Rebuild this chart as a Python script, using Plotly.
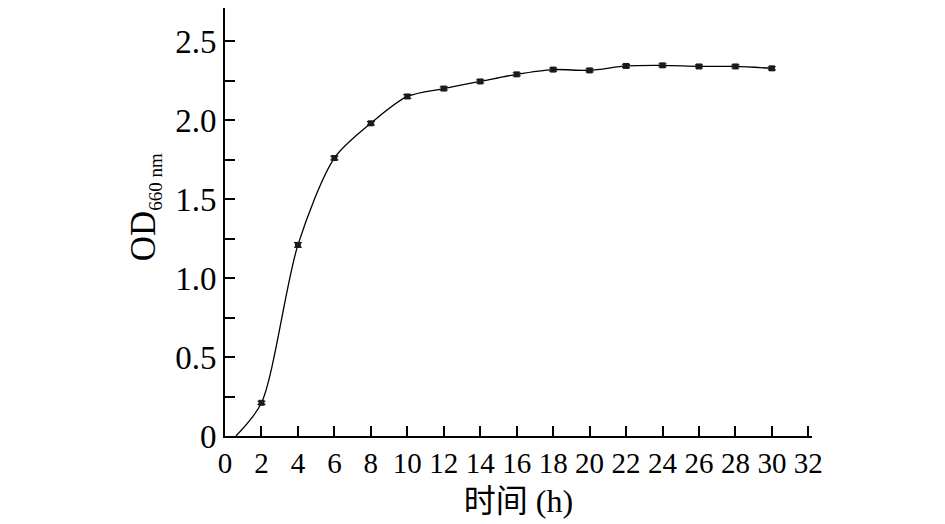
import plotly.graph_objects as go

# Measured points (time in h, OD660)
time_h = [2, 4, 6, 8, 10, 12, 14, 16, 18, 20, 22, 24, 26, 28, 30]
od660 = [0.21, 1.21, 1.76, 1.98, 2.15, 2.20, 2.245, 2.29, 2.32, 2.315, 2.343, 2.347, 2.34, 2.34, 2.328]
od_err = [0.01, 0.015, 0.012, 0.01, 0.012, 0.01, 0.01, 0.01, 0.01, 0.01, 0.01, 0.01, 0.01, 0.01, 0.01]

# Fitted curve, starting at the lag point
curve_t = [0.6, 2, 4, 6, 8, 10, 12, 14, 16, 18, 20, 22, 24, 26, 28, 30]
curve_od = [0.0, 0.21, 1.21, 1.76, 1.98, 2.15, 2.20, 2.245, 2.29, 2.32, 2.315, 2.343, 2.347, 2.34, 2.34, 2.328]

x_ticks = list(range(0, 33, 2))
y_ticks = [0, 0.5, 1.0, 1.5, 2.0, 2.5]
y_ticklabels = ["0", "0.5", "1.0", "1.5", "2.0", "2.5"]

fig = go.Figure()
fig.add_trace(go.Scatter(
    x=curve_t, y=curve_od, mode="lines",
    line=dict(color="black", width=1.3, shape="spline", smoothing=0.8),
    showlegend=False, hoverinfo="skip"))
fig.add_trace(go.Scatter(
    x=time_h, y=od660, mode="markers",
    marker=dict(symbol="square", size=6, color="#1a1a1a"),
    error_y=dict(type="data", array=od_err, color="#1a1a1a", thickness=1.2, width=4),
    showlegend=False))

serif = "Liberation Serif, Times New Roman, serif"
fig.update_layout(
    width=937, height=516,
    margin=dict(l=217, r=133, t=0, b=88),
    paper_bgcolor="white", plot_bgcolor="white",
    font=dict(family=serif, color="black"),
    xaxis=dict(
        range=[0, 32.2], tickvals=x_ticks, ticks="inside", ticklen=10, tickwidth=2,
        tickcolor="black", showline=True, linecolor="black", linewidth=2,
        showgrid=False, zeroline=False, tickfont=dict(size=29, family=serif),
        title=dict(text="时间 (h)", font=dict(size=32, family=serif + ", Noto Sans CJK SC"), standoff=12),
    ),
    yaxis=dict(
        range=[0, 2.71], tickvals=y_ticks, ticktext=y_ticklabels, ticks="inside",
        ticklen=10, tickwidth=2, tickcolor="black", showline=True, linecolor="black",
        linewidth=2, showgrid=False, zeroline=False, tickfont=dict(size=33, family=serif),
        minor=dict(dtick=0.25, ticks="inside", ticklen=10, tickwidth=2, tickcolor="black", showgrid=False),
    ),
    annotations=[dict(
        text="OD<sub><span style='font-size:19px'>660 nm</span></sub>",
        xref="paper", yref="paper", x=-0.136, y=0.535,
        xanchor="center", yanchor="middle", textangle=-90, showarrow=False,
        font=dict(size=35, family=serif, color="black"),
    )],
)

fig.write_html("out.html")
